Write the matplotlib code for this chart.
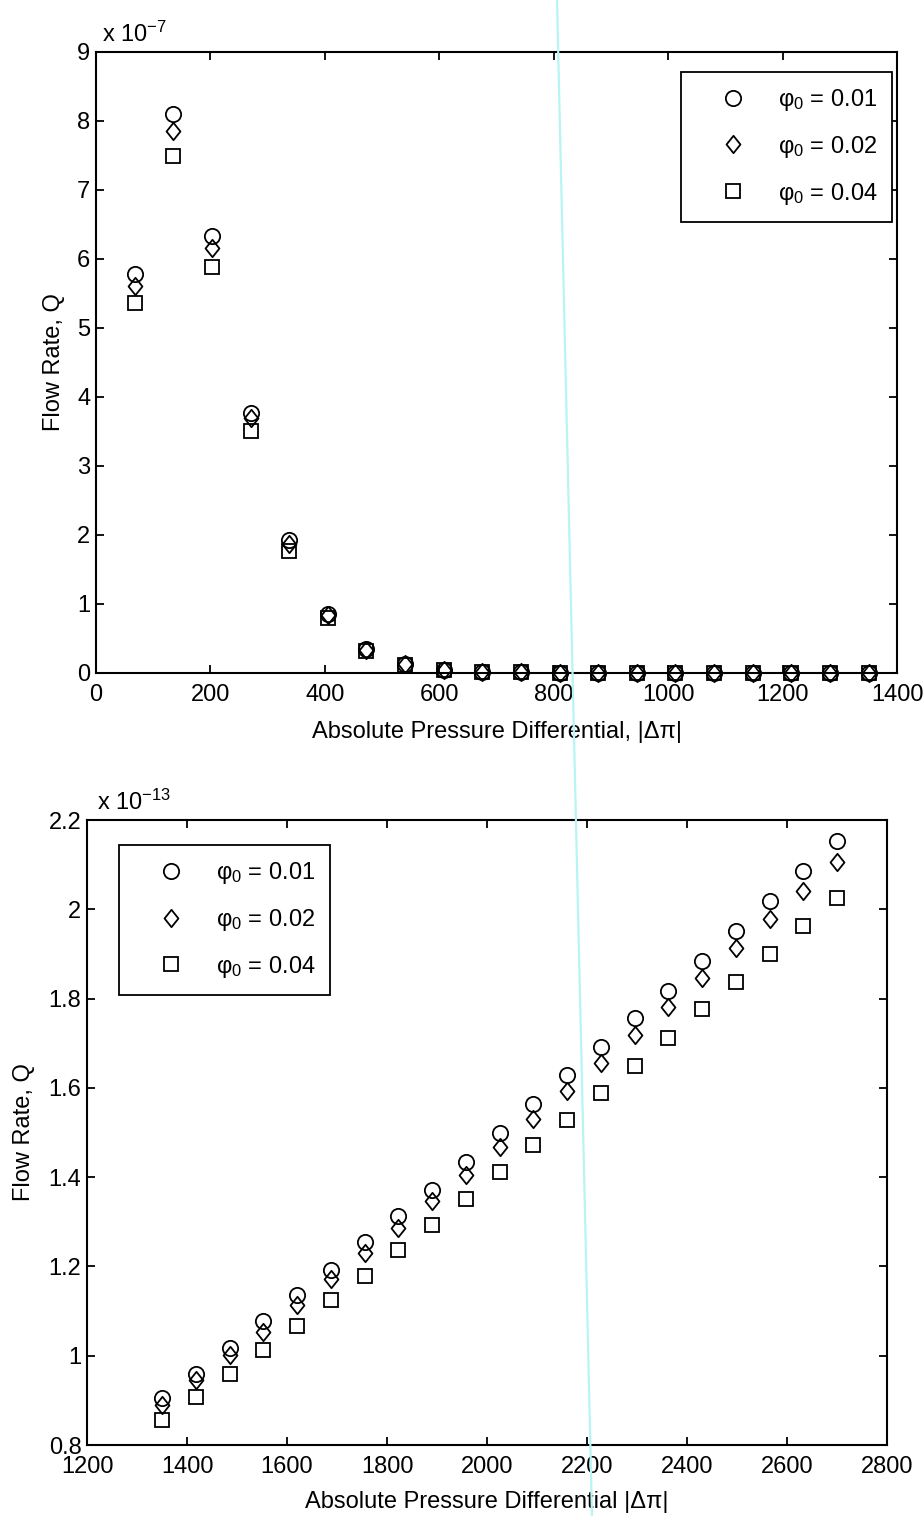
import numpy as np
import matplotlib
matplotlib.use("Agg")
import matplotlib.pyplot as plt
from matplotlib.lines import Line2D
from matplotlib.path import Path

plt.rcParams['font.family'] = ['Liberation Sans', 'DejaVu Sans']
plt.rcParams['mathtext.fontset'] = 'custom'
plt.rcParams['mathtext.rm'] = 'Liberation Sans'
plt.rcParams['mathtext.it'] = 'Liberation Sans:italic'
plt.rcParams['mathtext.bf'] = 'Liberation Sans:bold'

# Low pressure range (Q in units of 1e-7)
dp_low = [67.5, 135, 202.5, 270, 337.5, 405, 472.5, 540, 607.5, 675,
          742.5, 810, 877.5, 945, 1012.5, 1080, 1147.5, 1215, 1282.5, 1350]
q_low_001 = [5.78, 8.10, 6.34, 3.77, 1.92, 0.86, 0.34, 0.13, 0.05, 0.02,
             0.01, 0, 0, 0, 0, 0, 0, 0, 0, 0]
q_low_002 = [5.61, 7.86, 6.16, 3.69, 1.87, 0.84, 0.33, 0.13, 0.05, 0.02,
             0.01, 0, 0, 0, 0, 0, 0, 0, 0, 0]
q_low_004 = [5.36, 7.49, 5.88, 3.50, 1.77, 0.79, 0.32, 0.12, 0.05, 0.02,
             0.01, 0, 0, 0, 0, 0, 0, 0, 0, 0]

# High pressure range (Q in units of 1e-13)
dp_high = [1350, 1417.5, 1485, 1552.5, 1620, 1687.5, 1755, 1822.5, 1890, 1957.5,
           2025, 2092.5, 2160, 2227.5, 2295, 2362.5, 2430, 2497.5, 2565, 2632.5, 2700]
q_high_001 = [0.906, 0.960, 1.018, 1.078, 1.136, 1.192, 1.254, 1.314, 1.372, 1.435,
              1.498, 1.563, 1.628, 1.692, 1.757, 1.818, 1.884, 1.951, 2.018, 2.086, 2.152]
q_high_002 = [0.889, 0.945, 1.001, 1.054, 1.114, 1.171, 1.230, 1.286, 1.346, 1.405,
              1.468, 1.531, 1.594, 1.656, 1.719, 1.782, 1.846, 1.914, 1.978, 2.041, 2.106]
q_high_004 = [0.855, 0.908, 0.960, 1.014, 1.067, 1.125, 1.179, 1.237, 1.293, 1.352,
              1.412, 1.471, 1.529, 1.588, 1.650, 1.712, 1.776, 1.837, 1.900, 1.963, 2.025]

phi_labels = ['φ$_0$ = 0.01', 'φ$_0$ = 0.02', 'φ$_0$ = 0.04']

# slightly tall diamond like the MATLAB one
diamond = Path([(0, 1), (0.8, 0), (0, -1), (-0.8, 0), (0, 1)],
               [Path.MOVETO, Path.LINETO, Path.LINETO, Path.LINETO, Path.CLOSEPOLY])
markers = [('o', 11), (diamond, 12.5), ('s', 10.5)]

FS = 17


def style_axes(ax, xlim, xticks, ylim, yticks):
    ax.set_xlim(*xlim)
    ax.set_ylim(*ylim)
    ax.set_xticks(xticks)
    ax.set_yticks(yticks)
    ax.set_yticklabels(['%g' % round(v, 2) for v in yticks])
    ax.tick_params(direction='in', length=6, width=1.3, top=True, right=True,
                   labelsize=FS, pad=4)
    ax.tick_params(axis='x', pad=8)
    for s in ax.spines.values():
        s.set_linewidth(1.5)


def draw_series(ax, x, ys):
    for (m, ms), y, lab in zip(markers, ys, phi_labels):
        ax.plot(x, y, linestyle='none', marker=m, markersize=ms, markerfacecolor='none',
                markeredgecolor='black', markeredgewidth=1.3, label=lab, clip_on=False)


def add_legend(ax, loc, anchor):
    leg = ax.legend(loc=loc, bbox_to_anchor=anchor, borderaxespad=0,
                    fontsize=FS, fancybox=False, framealpha=1, edgecolor='black',
                    handlelength=3.1, handletextpad=0.35, borderpad=0.64,
                    labelspacing=0.88)
    leg.get_frame().set_linewidth(1.3)
    return leg


fig = plt.figure(figsize=(9.23, 15.16), dpi=100)

ax1 = fig.add_axes([0.104, 0.5561, 0.868, 0.4096])
draw_series(ax1, dp_low, [q_low_001, q_low_002, q_low_004])
style_axes(ax1, (0, 1400), np.arange(0, 1401, 200), (0, 9), np.arange(0, 10, 1))
ax1.set_xlabel('Absolute Pressure Differential, |Δπ|', fontsize=FS, labelpad=11)
ax1.set_ylabel('Flow Rate, Q', fontsize=FS, labelpad=9)
ax1.text(0.008, 1.008, r'x 10$^{\mathregular{-7}}$', transform=ax1.transAxes,
         fontsize=FS, va='bottom', ha='left')
add_legend(ax1, 'upper right', (0.994, 0.968))

ax2 = fig.add_axes([0.0943, 0.0468, 0.8667, 0.4123])
draw_series(ax2, dp_high, [q_high_001, q_high_002, q_high_004])
style_axes(ax2, (1200, 2800), np.arange(1200, 2801, 200), (0.8, 2.2),
           np.round(np.arange(0.8, 2.21, 0.2), 2))
ax2.set_xlabel('Absolute Pressure Differential |Δπ|', fontsize=FS, labelpad=9)
ax2.set_ylabel('Flow Rate, Q', fontsize=FS, labelpad=10)
ax2.text(0.012, 1.008, r'x 10$^{\mathregular{-13}}$', transform=ax2.transAxes,
         fontsize=FS, va='bottom', ha='left')
add_legend(ax2, 'upper left', (0.04, 0.96))

# faint cyan streak running down the sheet
fig.add_artist(Line2D([557 / 923, 592 / 923], [1.0, 0.0], color='#b8f4f4',
                      linewidth=1.6, transform=fig.transFigure, zorder=0.5))

fig.savefig('out.png', dpi=100, facecolor='white')
